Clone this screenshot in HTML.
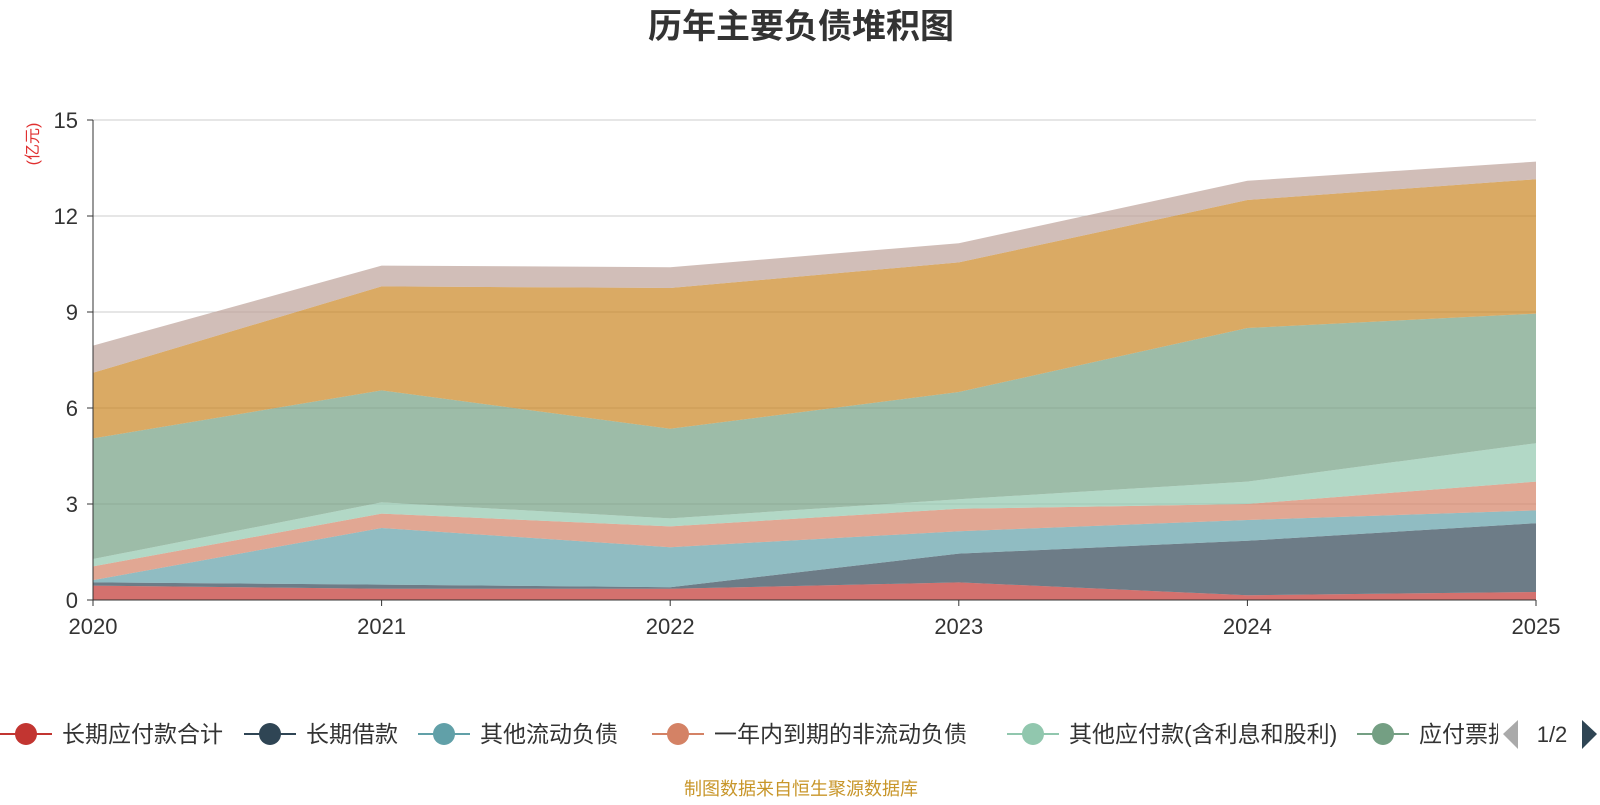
<!DOCTYPE html>
<html><head><meta charset="utf-8"><style>
body{margin:0;width:1600px;height:800px;background:#fff;overflow:hidden;font-family:"Liberation Sans","Noto Sans CJK SC",sans-serif}
</style></head><body>
<svg id="c" width="1600" height="800" xmlns="http://www.w3.org/2000/svg">
<text x="801" y="38" text-anchor="middle" font-size="34" font-weight="bold" fill="#333" font-family="Liberation Sans,Noto Sans CJK SC,sans-serif">历年主要负债堆积图</text>
<text transform="translate(38,144) rotate(-90)" text-anchor="middle" font-size="16" fill="#e03030" font-family="Liberation Sans,Noto Sans CJK SC,sans-serif">(亿元)</text>
<g id="grid"></g><g id="areas"></g><g id="axes"></g><g id="legend"></g>
<text x="801" y="795" text-anchor="middle" font-size="18" fill="#c8962a" font-family="Liberation Sans,Noto Sans CJK SC,sans-serif">制图数据来自恒生聚源数据库</text>
</svg>
<script>
const years=['2020','2021','2022','2023','2024','2025'];
const yTicks=[0,3,6,9,12,15];
const names=['长期应付款合计','长期借款','其他流动负债','一年内到期的非流动负债','其他应付款(含利息和股利)','应付票据','应付账款','合同负债'];
const s1=[0.45,0.35,0.35,0.55,0.15,0.25];
const s2=[0.10,0.13,0.05,0.90,1.70,2.15];
const s3=[0.07,1.77,1.25,0.70,0.65,0.40];
const s4=[0.43,0.45,0.65,0.70,0.50,0.90];
const s5=[0.23,0.35,0.25,0.30,0.70,1.20];
const s6=[3.77,3.50,2.80,3.35,4.80,4.05];
const s7=[2.05,3.25,4.40,4.05,4.00,4.20];
const s8=[0.85,0.65,0.65,0.60,0.60,0.55];
const series=[s1,s2,s3,s4,s5,s6,s7,s8];
const colors=['#c23531','#2f4554','#61a0a8','#d48265','#91c7ae','#749f83','#ca8622','#bda29a'];
const NS='http://www.w3.org/2000/svg';
const X0=93,X1=1536,Y0=600,Y1=120;
const x=i=>X0+(X1-X0)*i/(years.length-1);
const y=v=>Y0-(Y0-Y1)*v/15;
function mk(t,a,p){const e=document.createElementNS(NS,t);for(const k in a)e.setAttribute(k,a[k]);p.appendChild(e);return e;}
const grid=document.getElementById('grid'),axes=document.getElementById('axes'),areas=document.getElementById('areas'),leg=document.getElementById('legend');
yTicks.forEach(t=>{
 if(t>0){const g=mk('line',{x1:X0,x2:X1,y1:y(t),y2:y(t),stroke:'#ccc','stroke-width':1},grid);
 
 }
 const tk=mk('line',{x1:X0-6,x2:X0,y1:y(t),y2:y(t),stroke:'#333'},axes);
 
 
 const l=mk('text',{x:X0-15,y:y(t)+8,'text-anchor':'end','font-size':22,fill:'#333'},axes);l.textContent=t;
 
 
});
let base=years.map(()=>0);
series.forEach((s,k)=>{
 const top=base.map((b,i)=>b+s[i]);
 let d='M'+years.map((_,i)=>x(i)+','+y(top[i])).join(' L');
 for(let i=years.length-1;i>=0;i--)d+=' L'+x(i)+','+y(base[i]);
 const p=mk('path',{d:d+'Z',fill:colors[k],'fill-opacity':0.7,stroke:'none'},areas);
 
 
 base=top;
});
const ax=mk('line',{x1:X0,x2:X0,y1:Y1,y2:Y0,stroke:'#333'},axes);


const bx=mk('line',{x1:X0,x2:X1,y1:Y0,y2:Y0,stroke:'#333'},axes);


years.forEach((yr,i)=>{
 const tk=mk('line',{x1:x(i),x2:x(i),y1:Y0,y2:Y0+6,stroke:'#333'},axes);
 
 
 const l=mk('text',{x:x(i),y:634,'text-anchor':'middle','font-size':22,fill:'#333'},axes);l.textContent=yr;
 
 
});
const lx=[26,270,444,678,1033,1383];
for(let k=0;k<6;k++){
 const g=mk('g',{},leg);
 
 
 mk('line',{x1:lx[k]-26,x2:lx[k]+26,y1:734,y2:734,stroke:colors[k],'stroke-width':2},g);
 mk('circle',{cx:lx[k],cy:734,r:11,fill:colors[k]},g);
 const t=mk('text',{x:lx[k]+36,y:742,'font-size':23,fill:'#333'},g);t.textContent=names[k];
}
const cp=mk('rect',{x:1498,y:712,width:102,height:44,fill:'#fff'},leg);


const pa=mk('path',{d:'M1518,720 L1503,734 L1518,749Z',fill:'#aaa'},leg);


const pt=mk('text',{x:1552,y:742,'text-anchor':'middle','font-size':22,fill:'#333'},leg);pt.textContent='1/2';


const pn=mk('path',{d:'M1582,720 L1597,734 L1582,749Z',fill:'#2f4554'},leg);


</script>
</body></html>
